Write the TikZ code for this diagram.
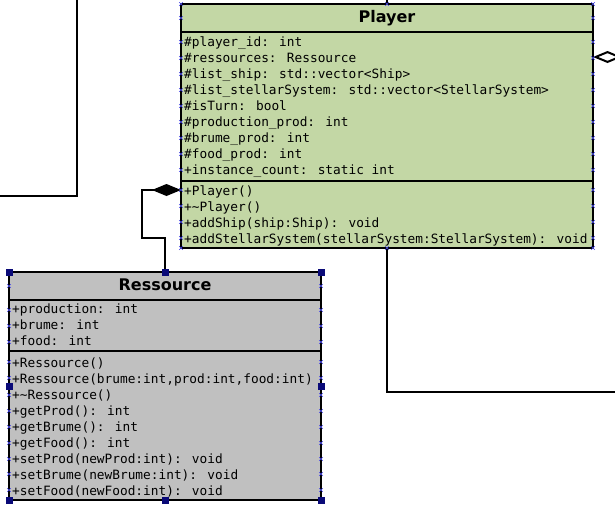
\documentclass[tikz,border=0pt]{standalone}
\usepackage{fontspec}
\usepackage{xcolor}
\usetikzlibrary{arrows.meta,calc}
\newfontfamily\membfont{DejaVu Sans Mono}
\newfontfamily\namefont{DejaVu Sans}
\definecolor{playergreen}{RGB}{195,215,165}
\definecolor{ressgray}{RGB}{192,192,192}
\definecolor{handleblue}{RGB}{10,10,120}
\definecolor{crossblue}{RGB}{70,70,230}

\begin{document}
\begin{tikzpicture}[x=1pt, y=-1pt]
	\tikzstyle{classbox}=[draw=black, line width=2pt, inner sep=0pt, outer sep=0pt]
	\tikzstyle{classname}=[font=\namefont\bfseries\fontsize{16}{19}\selectfont, anchor=base, inner sep=0pt]
	\tikzstyle{member}=[font=\membfont\fontsize{12.8}{16}\selectfont, anchor=base west, inner sep=0pt]
	\tikzstyle{link}=[draw=black, line width=2pt]
	\tikzstyle{sep}=[draw=black, line width=2pt]
	
	\useasboundingbox (0,0) rectangle (615,507);
	
	% classes
	\node[classbox, fill=playergreen, minimum width=412pt, minimum height=244pt] (player) at (387,126) {};
	\node[classbox, fill=ressgray, minimum width=312pt, minimum height=228pt] (ressource) at (165,386) {};
	
	% Player
	\node[classname] (playername) at ($(player.north)+(0,18)$) {Player};
	\draw[sep] ($(player.north west)+(0,28)$) -- ($(player.north east)+(0,28)$);
	\draw[sep] ($(player.north west)+(0,177)$) -- ($(player.north east)+(0,177)$);
	\foreach \m [count=\i from 0] in {\#player\_id: int, \#ressources: Ressource,
		\#list\_ship: std::vector<Ship>, \#list\_stellarSystem: std::vector<StellarSystem>,
		\#isTurn: bool, \#production\_prod: int, \#brume\_prod: int, \#food\_prod: int,
		+instance\_count: static int}
		\node[member] (pattr\i) at ($(player.north west)+(3,42+16*\i)$) {\m};
	\foreach \m [count=\i from 0] in {+Player(), +\textasciitilde Player(), +addShip(ship:Ship): void,
		+addStellarSystem(stellarSystem:StellarSystem): void}
		\node[member] (pmeth\i) at ($(player.north west)+(3,191+16*\i)$) {\m};
	
	% Ressource
	\node[classname] (ressname) at ($(ressource.north)+(0,18)$) {Ressource};
	\draw[sep] ($(ressource.north west)+(0,28)$) -- ($(ressource.north east)+(0,28)$);
	\draw[sep] ($(ressource.north west)+(0,79)$) -- ($(ressource.north east)+(0,79)$);
	\foreach \m [count=\i from 0] in {+production: int, +brume: int, +food: int}
		\node[member] (rattr\i) at ($(ressource.north west)+(3,41+16*\i)$) {\m};
	\foreach \m [count=\i from 0] in {+Ressource(), {+Ressource(brume:int,prod:int,food:int)},
		+\textasciitilde Ressource(), +getProd(): int, +getBrume(): int, +getFood(): int,
		+setProd(newProd:int): void, +setBrume(newBrume:int): void, +setFood(newFood:int): void}
		\node[member] (rmeth\i) at ($(ressource.north west)+(3,95+16*\i)$) {\m};
	
	% connectors
	\coordinate (comp) at (181,190);
	\coordinate (aggrtip) at (593,57);
	\coordinate (aggrend) at (640,57);
	\coordinate (upend) at (387,-10);
	\coordinate (downend) at (640,392);
	\coordinate (leftin) at (-10,196);
	\coordinate (leftup) at (77,-10);
	\draw[link, -{Diamond[length=29pt, width=12pt]}] (ressource.north) -- ++(0,-34) -- ++(-23,0) |- (comp);
	\draw[link, {Diamond[length=29pt, width=12pt, fill=white]}-] (aggrtip) -- (aggrend);
	\draw[link] (player.north) -- (upend);
	\draw[link] (player.south) |- (downend);
	\draw[link] (leftin) -| (leftup);
	
	% connection points
	\foreach \y in {4,18,42,58,74,90,106,122,138,154,170,190,206,222,238,248}
		\draw[crossblue, line width=0.6pt] (181,\y) +(-1.8,-1.8) -- +(1.8,1.8) +(-1.8,1.8) -- +(1.8,-1.8)
			(593,\y) +(-1.8,-1.8) -- +(1.8,1.8) +(-1.8,1.8) -- +(1.8,-1.8);
	\foreach \y in {286,310,326,342,362,378,395,411,427,443,459,474,490}
		\draw[crossblue, line width=0.6pt] (9,\y) +(-1.8,-1.8) -- +(1.8,1.8) +(-1.8,1.8) -- +(1.8,-1.8)
			(321,\y) +(-1.8,-1.8) -- +(1.8,1.8) +(-1.8,1.8) -- +(1.8,-1.8);
	\foreach \x in {387}
		\draw[crossblue, line width=0.6pt] (\x,4) +(-1.8,-1.8) -- +(1.8,1.8) +(-1.8,1.8) -- +(1.8,-1.8)
			(\x,248) +(-1.8,-1.8) -- +(1.8,1.8) +(-1.8,1.8) -- +(1.8,-1.8);
	
	% selection handles
	\foreach \a in {north west, north, north east, east, south east, south, south west, west}
		\fill[handleblue] (ressource.\a) ++(-3.5,-3.5) rectangle ++(7,7);
\end{tikzpicture}
\end{document}
